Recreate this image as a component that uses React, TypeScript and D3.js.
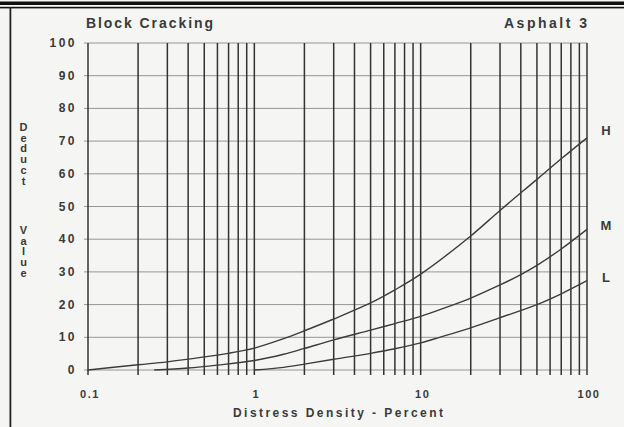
import React from "react";
import * as d3 from "d3";

const W = 624;
const H = 427;

const title = "Block Cracking";
const subtitle = "Asphalt 3";
const xTitle = "Distress Density  - Percent";
const yTitleTop = "Deduct";
const yTitleBottom = "Value";

const xTickValues = [0.1, 1, 10, 100];
const xTickLabels = ["0.1", "1", "10", "100"];
const yTickValues = [0, 10, 20, 30, 40, 50, 60, 70, 80, 90, 100];

const seriesNames = ["H", "M", "L"];
const highX = [0.1, 0.2, 0.3, 0.5, 0.7, 1, 1.5, 2, 3, 5, 7, 10, 20, 30, 50, 70, 100];
const highY = [0, 1.6, 2.5, 4, 5.1, 6.7, 9.6, 12, 15.6, 20.5, 24.5, 29.3, 41, 48.8, 58.3, 64.6, 71];
const medX = [0.25, 0.4, 0.6, 1, 1.5, 2, 3, 5, 7, 10, 14, 20, 30, 40, 50, 70, 100];
const medY = [0, 0.6, 1.5, 2.9, 4.8, 6.6, 9.2, 12.2, 14.2, 16.4, 19, 22, 26, 29.2, 32, 37, 43];
const lowX = [1, 1.5, 2, 3, 5, 7, 10, 13, 20, 30, 50, 70, 100];
const lowY = [0, 0.8, 1.8, 3.3, 5.1, 6.5, 8.3, 10, 12.9, 16, 20, 23.3, 27.3];

const seriesX = [highX, medX, lowX];
const seriesY = [highY, medY, lowY];

export default function App() {
  const x = d3.scaleLog().domain([0.1, 100]).range([88, 587]);
  const y = d3.scaleLinear().domain([0, 100]).range([370, 43]);

  const gridX: number[] = [];
  for (let d = 0.1; d < 99; d *= 10) {
    for (let k = 1; k <= 9; k++) gridX.push(+(d * k).toPrecision(3));
  }
  gridX.push(100);

  const line = d3
    .line<[number, number]>()
    .x((d) => x(d[0]))
    .y((d) => y(d[1]))
    .curve(d3.curveCatmullRom.alpha(0.5));

  const font = "'Liberation Sans', Arial, sans-serif";
  const textFill = "#3a3a3a";

  const yLetters = (word: string, startY: number) =>
    word.split("").map((ch, i) => (
      <text
        key={word + i}
        x={23.5}
        y={startY + i * 10.7}
        textAnchor="middle"
        dominantBaseline="central"
        fontSize={11}
        fontWeight="bold"
        fill={textFill}
      >
        {ch}
      </text>
    ));

  const labelY = [130, 225, 277];

  return (
    <svg
      width={W}
      height={H}
      style={{ position: "absolute", left: 0, top: 0 }}
      fontFamily={font}
    >
      <rect x={0} y={0} width={W} height={H} fill="#f5f5f3" />
      {/* frame */}
      <rect x={0} y={1.5} width={W} height={3.5} fill="#111" />
      <rect x={0} y={6.8} width={W} height={1.6} fill="#111" />
      <rect x={9.5} y={7} width={1.8} height={H - 7} fill="#222" />

      {/* horizontal grid */}
      {yTickValues.map((v) => (
        <line
          key={"h" + v}
          x1={84}
          x2={587}
          y1={y(v)}
          y2={y(v)}
          stroke="#969696"
          strokeWidth={1}
        />
      ))}
      {/* vertical grid */}
      {gridX.map((v) => (
        <line
          key={"v" + v}
          x1={x(v)}
          x2={x(v)}
          y1={y(100)}
          y2={375}
          stroke="#333"
          strokeWidth={1.5}
        />
      ))}

      {/* curves */}
      {seriesX.map((xs, si) => (
        <path
          key={"s" + si}
          d={line(xs.map((xv, i) => [xv, seriesY[si][i]] as [number, number])) || ""}
          fill="none"
          stroke="#3c3c3c"
          strokeWidth={1.4}
        />
      ))}

      {/* curve labels */}
      {seriesNames.map((n, i) => (
        <text
          key={"lab" + n}
          x={606}
          y={labelY[i]}
          textAnchor="middle"
          dominantBaseline="central"
          fontSize={13}
          fontWeight="bold"
          fill={textFill}
        >
          {n}
        </text>
      ))}

      {/* y tick labels */}
      {yTickValues.map((v) => (
        <text
          key={"yt" + v}
          x={77}
          y={y(v)}
          textAnchor="end"
          dominantBaseline="central"
          fontSize={12}
          fontWeight="bold"
          letterSpacing={2.5}
          fill={textFill}
        >
          {String(v)}
        </text>
      ))}

      {/* x tick labels */}
      {xTickValues.map((v, i) => (
        <text
          key={"xt" + v}
          x={x(v) + 2}
          y={398}
          textAnchor="middle"
          fontSize={11}
          fontWeight="bold"
          letterSpacing={1.5}
          fill={textFill}
        >
          {xTickLabels[i]}
        </text>
      ))}

      {/* titles */}
      <text x={86} y={27.5} fontSize={14} fill={textFill} fontWeight="bold" textLength={127} lengthAdjust="spacing">
        {title}
      </text>
      <text x={504} y={27.5} fontSize={14} fill={textFill} fontWeight="bold" textLength={83} lengthAdjust="spacing">
        {subtitle}
      </text>
      <text x={233} y={417} fontSize={12} fill={textFill} fontWeight="bold" textLength={210} lengthAdjust="spacing">
        {xTitle}
      </text>

      {yLetters(yTitleTop, 127)}
      {yLetters(yTitleBottom, 230)}
    </svg>
  );
}
